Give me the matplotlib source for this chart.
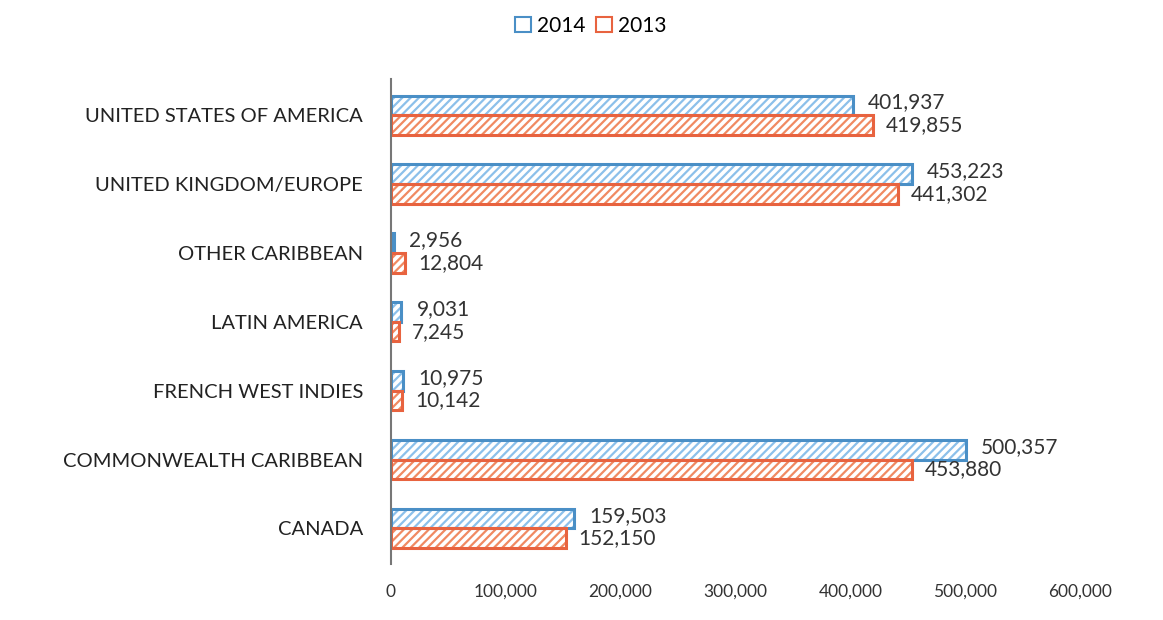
import matplotlib
matplotlib.use("Agg")
import matplotlib.pyplot as plt
import numpy as np
from matplotlib.patches import Patch

plt.rcParams['font.family'] = ['Lato', 'DejaVu Sans']
plt.rcParams['hatch.linewidth'] = 1.6

categories = ["CANADA", "COMMONWEALTH CARIBBEAN", "FRENCH WEST INDIES",
              "LATIN AMERICA", "OTHER CARIBBEAN", "UNITED KINGDOM/EUROPE",
              "UNITED STATES OF AMERICA"]
values_2014 = [159503, 500357, 10975, 9031, 2956, 453223, 401937]
values_2013 = [152150, 453880, 10142, 7245, 12804, 441302, 419855]
xticks = [0, 100000, 200000, 300000, 400000, 500000, 600000]

fig = plt.figure(figsize=(11.63, 6.2), dpi=100)
ax = fig.add_axes([0.336, 0.090, 0.593, 0.782])

y = np.arange(len(categories))
h = 0.285
blue_edge, blue_hatch = "#4a8fc6", "#8cc0ea"
red_edge, red_hatch = "#e8633f", "#f08a62"

ax.barh(y + h/2, values_2014, height=h, facecolor="white",
        edgecolor=blue_hatch, hatch="////", linewidth=0)
ax.barh(y - h/2, values_2013, height=h, facecolor="white",
        edgecolor=red_hatch, hatch="////", linewidth=0)
ax.barh(y + h/2, values_2014, height=h, facecolor="none",
        edgecolor=blue_edge, linewidth=2.2)
ax.barh(y - h/2, values_2013, height=h, facecolor="none",
        edgecolor=red_edge, linewidth=2.2)

for yi, v in zip(y, values_2014):
    ax.annotate(f"{v:,}", (v, yi + h/2), xytext=(11, 2), textcoords="offset points",
                va="center", ha="left", fontsize=15, color="#333333")
for yi, v in zip(y, values_2013):
    ax.annotate(f"{v:,}", (v, yi - h/2), xytext=(9, 0), textcoords="offset points",
                va="center", ha="left", fontsize=15, color="#333333")

ax.set_xlim(0, 600000)
ax.set_ylim(-0.52, 6.52)
ax.set_yticks(y)
ax.set_yticklabels(categories, fontsize=14.5, color="#222222")
ax.set_xticks(xticks)
ax.set_xticklabels([f"{t:,}" for t in xticks], fontsize=12.5, color="#333333")
ax.tick_params(axis="both", length=0)
ax.tick_params(axis="y", pad=20)
ax.tick_params(axis="x", pad=14)
for s in ["top", "right", "bottom"]:
    ax.spines[s].set_visible(False)
ax.spines["left"].set_color("#777777")
ax.spines["left"].set_linewidth(1.5)

handles = [Patch(facecolor="white", edgecolor=blue_edge, linewidth=1.5),
           Patch(facecolor="white", edgecolor=red_edge, linewidth=1.5)]
fig.legend(handles, ["2014", "2013"], loc="upper center", bbox_to_anchor=(0.508, 1.005),
           ncol=2, frameon=False, fontsize=15, handlelength=0.75, handleheight=0.75,
           columnspacing=0.5, handletextpad=0.3)

fig.savefig("out.png", dpi=100, facecolor="white")
